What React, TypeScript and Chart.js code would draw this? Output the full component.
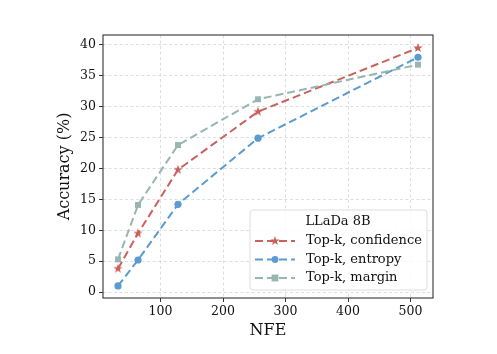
import React, { useEffect, useRef } from "react";
import { Chart, registerables } from "chart.js";

Chart.register(...registerables);

const nfe = [32, 64, 128, 256, 512];
const confidence = [3.8, 9.5, 19.8, 29.2, 39.5];
const entropy = [1.0, 5.2, 14.2, 24.9, 38.0];
const margin = [5.3, 14.1, 23.8, 31.2, 36.8];
const xTicks = [100, 200, 300, 400, 500];
const yTicks = [0, 5, 10, 15, 20, 25, 30, 35, 40];
const seriesNames = ["Top-k, confidence", "Top-k, entropy", "Top-k, margin"];
const legendTitle = "LLaDa 8B";
const xTitle = "NFE";
const yTitle = "Accuracy (%)";

const RED = "#c9625d";
const BLUE = "#5b9bd0";
const GREEN = "#97b5b1";
const FONT = "'DejaVu Serif', serif";
const DASH = [8, 4];

function makeStar(color: string, r: number) {
  const c = document.createElement("canvas");
  const s = Math.ceil(r * 2 + 2);
  c.width = s;
  c.height = s;
  const ctx = c.getContext("2d")!;
  const cx = s / 2, cy = s / 2;
  ctx.beginPath();
  for (let i = 0; i < 10; i++) {
    const rad = i % 2 === 0 ? r : r * 0.4;
    const a = -Math.PI / 2 + (i * Math.PI) / 5;
    const x = cx + rad * Math.cos(a);
    const y = cy + rad * Math.sin(a);
    if (i === 0) ctx.moveTo(x, y);
    else ctx.lineTo(x, y);
  }
  ctx.closePath();
  ctx.fillStyle = color;
  ctx.fill();
  return c;
}

function drawMarker(ctx: CanvasRenderingContext2D, kind: string, color: string, x: number, y: number, star: HTMLCanvasElement) {
  ctx.fillStyle = color;
  if (kind === "star") {
    ctx.drawImage(star, x - star.width / 2, y - star.height / 2);
  } else if (kind === "circle") {
    ctx.beginPath();
    ctx.arc(x, y, 3.4, 0, Math.PI * 2);
    ctx.fill();
  } else {
    ctx.fillRect(x - 3.4, y - 3.4, 6.8, 6.8);
  }
}

export default function App() {
  const ref = useRef<HTMLCanvasElement | null>(null);

  useEffect(() => {
    if (!ref.current) return;
    const star = makeStar(RED, 5);
    const kinds = ["star", "circle", "rect"];
    const colors = [RED, BLUE, GREEN];

    const overlay = {
      id: "overlay",
      afterDraw(chart: any) {
        const ctx = chart.ctx as CanvasRenderingContext2D;
        const a = chart.chartArea;
        ctx.save();
        // frame
        ctx.strokeStyle = "#333333";
        ctx.lineWidth = 1.1;
        ctx.setLineDash([]);
        ctx.strokeRect(a.left, a.top, a.right - a.left, a.bottom - a.top);
        // axis titles
        ctx.fillStyle = "#111111";
        ctx.font = `16px ${FONT}`;
        ctx.textAlign = "center";
        ctx.textBaseline = "middle";
        ctx.fillText(xTitle, (a.left + a.right) / 2, 331);
        ctx.save();
        ctx.translate(65, (a.top + a.bottom) / 2);
        ctx.rotate(-Math.PI / 2);
        ctx.fillText(yTitle, 0, 0);
        ctx.restore();
        // legend
        const lx = 250, ly = 210, lw = 177, lh = 80, r = 3;
        ctx.beginPath();
        ctx.moveTo(lx + r, ly);
        ctx.arcTo(lx + lw, ly, lx + lw, ly + lh, r);
        ctx.arcTo(lx + lw, ly + lh, lx, ly + lh, r);
        ctx.arcTo(lx, ly + lh, lx, ly, r);
        ctx.arcTo(lx, ly, lx + lw, ly, r);
        ctx.closePath();
        ctx.fillStyle = "rgba(255,255,255,0.85)";
        ctx.fill();
        ctx.strokeStyle = "#dddddd";
        ctx.lineWidth = 1;
        ctx.stroke();
        ctx.fillStyle = "#111111";
        ctx.font = `13px ${FONT}`;
        ctx.textAlign = "center";
        ctx.fillText(legendTitle, 338, 222);
        const rows = [241, 259.5, 278];
        ctx.textAlign = "left";
        rows.forEach((yy, i) => {
          ctx.strokeStyle = colors[i];
          ctx.lineWidth = 2;
          ctx.setLineDash(DASH);
          ctx.beginPath();
          ctx.moveTo(255, yy);
          ctx.lineTo(295, yy);
          ctx.stroke();
          ctx.setLineDash([]);
          drawMarker(ctx, kinds[i], colors[i], 275, yy, star);
          ctx.fillStyle = "#111111";
          ctx.fillText(seriesNames[i], 306, yy);
        });
        ctx.restore();
      },
    };

    const mk = (label: string, data: number[], color: string, ps: any, radius: number, order: number) => ({
      label,
      data: nfe.map((x, i) => ({ x, y: data[i] })),
      borderColor: color,
      backgroundColor: color,
      borderWidth: 2,
      borderDash: DASH,
      pointStyle: ps,
      pointRadius: radius,
      pointBorderWidth: 0,
      pointBackgroundColor: color,
      pointBorderColor: color,
      order,
      tension: 0,
    });

    const chart = new Chart(ref.current, {
      type: "line",
      data: {
        datasets: [
          mk(seriesNames[0], confidence, RED, star, 5, 3),
          mk(seriesNames[1], entropy, BLUE, "circle", 3.6, 2),
          mk(seriesNames[2], margin, GREEN, "rect", 4.2, 1),
        ],
      },
      options: {
        responsive: false,
        animation: false,
        events: [],
        layout: { padding: { left: 0, right: 64, top: 35, bottom: 0 } },
        plugins: { legend: { display: false }, tooltip: { enabled: false } },
        scales: {
          x: {
            type: "linear",
            min: 8,
            max: 536,
            afterFit: (s: any) => { s.height = 56; },
            afterBuildTicks: (s: any) => { s.ticks = xTicks.map((v) => ({ value: v })); },
            grid: { color: "#d6d6d6", lineWidth: 0.8, tickLength: 4, tickColor: "#333333", tickBorderDash: [], tickWidth: 1 },
            border: { display: false, dash: [3, 2.5] },
            ticks: { color: "#111111", font: { family: FONT, size: 12.5 }, padding: 2, maxRotation: 0 },
          },
          y: {
            type: "linear",
            min: -0.95,
            max: 41.6,
            afterFit: (s: any) => { s.width = 103; },
            afterBuildTicks: (s: any) => { s.ticks = yTicks.map((v) => ({ value: v })); },
            grid: { color: "#d6d6d6", lineWidth: 0.8, tickLength: 4, tickColor: "#333333", tickBorderDash: [], tickWidth: 1 },
            border: { display: false, dash: [3, 2.5] },
            ticks: { color: "#111111", font: { family: FONT, size: 12.5 }, padding: 3 },
          },
        },
      },
      plugins: [overlay],
    });
    return () => chart.destroy();
  }, []);

  return (
    <div style={{ position: "fixed", left: 0, top: 0, width: 497, height: 354, background: "#fff" }}>
      <canvas ref={ref} width={497} height={354} style={{ width: 497, height: 354 }} />
    </div>
  );
}
